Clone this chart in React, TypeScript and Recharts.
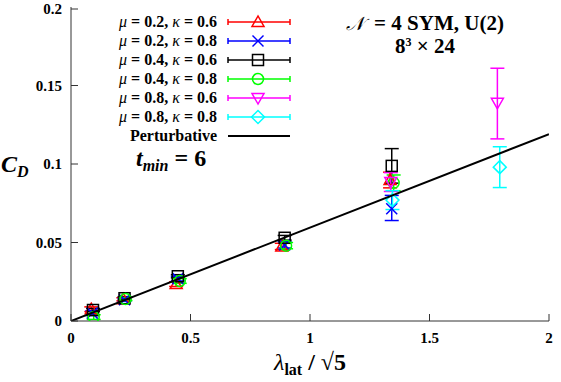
import React from 'react';
import { ComposedChart, Scatter, XAxis, YAxis, ErrorBar } from 'recharts';

const FONT = '"Liberation Serif", "Times New Roman", serif';

// ---- axis ticks ----
const xTicks = [0, 0.5, 1, 1.5, 2];
const xTickLabels = ['0', '0.5', '1', '1.5', '2'];
const yTicks = [0, 0.05, 0.1, 0.15, 0.2];
const yTickLabels = ['0', '0.05', '0.1', '0.15', '0.2'];

// ---- series data (x = lambda_lat / sqrt5, y = C_D) ----
const redX = [0.085, 0.219, 0.44, 0.882, 1.335];
const redY = [0.0075, 0.0138, 0.0235, 0.0475, 0.0898];
const redErr = [0.0015, 0.001, 0.0015, 0.002, 0.005];

const blueX = [0.089, 0.224, 0.447, 0.894, 1.342];
const blueY = [0.005, 0.0135, 0.027, 0.0485, 0.0715];
const blueErrLo = [0.0015, 0.001, 0.0015, 0.002, 0.0075];
const blueErrHi = [0.0015, 0.001, 0.0015, 0.002, 0.0085];

const blackX = [0.092, 0.224, 0.447, 0.894, 1.342];
const blackY = [0.007, 0.0145, 0.0285, 0.053, 0.0988];
const blackErr = [0.001, 0.001, 0.001, 0.0015, 0.011];

const greenX = [0.095, 0.228, 0.455, 0.9, 1.35];
const greenY = [0.0025, 0.014, 0.0255, 0.048, 0.088];
const greenErr = [0.0015, 0.001, 0.0015, 0.002, 0.005];

const magentaX = [1.338, 1.784];
const magentaY = [0.0885, 0.139];
const magentaErrLo = [0.006, 0.023];
const magentaErrHi = [0.006, 0.022];

const cyanX = [1.345, 1.794];
const cyanY = [0.077, 0.098];
const cyanErr = [0.006, 0.013];

const pertX = [0, 2];
const pertY = [0, 0.119];

const build = (xs: number[], ys: number[], lo: number[], hi?: number[]) =>
  xs.map((x, i) => ({ x, y: ys[i], e: [lo[i], (hi || lo)[i]] }));

const redData = build(redX, redY, redErr);
const blueData = build(blueX, blueY, blueErrLo, blueErrHi);
const blackData = build(blackX, blackY, blackErr);
const greenData = build(greenX, greenY, greenErr);
const magentaData = build(magentaX, magentaY, magentaErrLo, magentaErrHi);
const cyanData = build(cyanX, cyanY, cyanErr);
const pertData = pertX.map((x, i) => ({ x, y: pertY[i] }));

const legendItems = [
  { mu: '0.2', ka: '0.6', color: '#ff0000', shape: 'tri' },
  { mu: '0.2', ka: '0.8', color: '#0000ff', shape: 'x' },
  { mu: '0.4', ka: '0.6', color: '#000000', shape: 'sq' },
  { mu: '0.4', ka: '0.8', color: '#00ff00', shape: 'circ' },
  { mu: '0.8', ka: '0.6', color: '#ff00ff', shape: 'itri' },
  { mu: '0.8', ka: '0.8', color: '#00ffff', shape: 'dia' },
];

const Marker = ({ shape, cx, cy, color }: any) => {
  const sw = 1.5;
  const common = { fill: 'none', stroke: color, strokeWidth: sw };
  switch (shape) {
    case 'tri':
      return <polygon points={`${cx},${cy - 6} ${cx - 6},${cy + 4.5} ${cx + 6},${cy + 4.5}`} {...common} />;
    case 'itri':
      return <polygon points={`${cx},${cy + 6} ${cx - 6},${cy - 4.5} ${cx + 6},${cy - 4.5}`} {...common} />;
    case 'x':
      return (
        <g {...common}>
          <line x1={cx - 5.5} y1={cy - 5.5} x2={cx + 5.5} y2={cy + 5.5} />
          <line x1={cx - 5.5} y1={cy + 5.5} x2={cx + 5.5} y2={cy - 5.5} />
        </g>
      );
    case 'sq':
      return <rect x={cx - 5.5} y={cy - 5.5} width={11} height={11} {...common} />;
    case 'circ':
      return <circle cx={cx} cy={cy} r={5.5} {...common} />;
    case 'dia':
      return <polygon points={`${cx},${cy - 6.5} ${cx + 6.5},${cy} ${cx},${cy + 6.5} ${cx - 6.5},${cy}`} {...common} />;
  }
  return null;
};

const shapeFor = (shape: string, color: string) => (props: any) =>
  <Marker shape={shape} cx={props.cx} cy={props.cy} color={color} />;

const tickText = { fontFamily: FONT, fontWeight: 'bold', fontSize: 15, fill: '#000' } as any;

const BottomTick = ({ x, y, payload }: any) => {
  const i = xTicks.indexOf(payload.value);
  return (
    <g>
      <line x1={x} y1={y} x2={x} y2={y - 7} stroke="#333" strokeWidth={1} />
      <text x={x} y={y + 22} textAnchor="middle" style={tickText}>{xTickLabels[i]}</text>
    </g>
  );
};
const TopTick = ({ x, y }: any) => (
  <line x1={x} y1={y} x2={x} y2={y + 7} stroke="#333" strokeWidth={1} />
);
const LeftTick = ({ x, y, payload }: any) => {
  const i = yTicks.indexOf(payload.value);
  return (
    <g>
      <line x1={x} y1={y} x2={x + 7} y2={y} stroke="#333" strokeWidth={1} />
      <text x={x - 9} y={y + 5} textAnchor="end" style={tickText}>{yTickLabels[i]}</text>
    </g>
  );
};
const RightTick = ({ x, y }: any) => (
  <line x1={x} y1={y} x2={x - 7} y2={y} stroke="#333" strokeWidth={1} />
);

const series = [
  { data: redData, color: '#ff0000', shape: 'tri' },
  { data: blueData, color: '#0000ff', shape: 'x' },
  { data: blackData, color: '#000000', shape: 'sq' },
  { data: greenData, color: '#00ff00', shape: 'circ' },
  { data: magentaData, color: '#ff00ff', shape: 'itri' },
  { data: cyanData, color: '#00ffff', shape: 'dia' },
];

export default function App() {
  return (
    <div style={{ position: 'absolute', left: 0, top: 0, width: 561, height: 382, background: '#fff' }}>
      <ComposedChart width={561} height={382} margin={{ top: 7, right: 12, left: 0, bottom: 0 }}>
        <XAxis
          xAxisId="b"
          dataKey="x"
          type="number"
          domain={[0, 2]}
          ticks={xTicks}
          height={61}
          tickSize={0}
          tickMargin={0}
          tick={<BottomTick />}
          axisLine={{ stroke: '#333', strokeWidth: 1 }}
          allowDataOverflow
        />
        <XAxis
          xAxisId="t"
          orientation="top"
          type="number"
          domain={[0, 2]}
          ticks={xTicks}
          height={0}
          tickSize={0}
          tickMargin={0}
          tick={<TopTick />}
          axisLine={{ stroke: '#333', strokeWidth: 1 }}
          allowDataOverflow
        />
        <YAxis
          yAxisId="l"
          dataKey="y"
          type="number"
          domain={[0, 0.2]}
          ticks={yTicks}
          width={71}
          tickSize={0}
          tickMargin={0}
          tick={<LeftTick />}
          axisLine={{ stroke: '#333', strokeWidth: 1 }}
          allowDataOverflow
        />
        <YAxis
          yAxisId="r"
          orientation="right"
          type="number"
          domain={[0, 0.2]}
          ticks={yTicks}
          width={0}
          tickSize={0}
          tickMargin={0}
          tick={<RightTick />}
          axisLine={{ stroke: '#333', strokeWidth: 1 }}
          allowDataOverflow
        />
        {series.map((s, k) => (
          <Scatter
            key={k}
            xAxisId="b"
            yAxisId="l"
            data={s.data}
            dataKey="y"
            isAnimationActive={false}
            shape={shapeFor(s.shape, s.color)}
          >
            <ErrorBar dataKey="e" direction="y" width={7} stroke={s.color} strokeWidth={1.5} />
          </Scatter>
        ))}
        <Scatter
          xAxisId="b"
          yAxisId="l"
          data={pertData}
          dataKey="y"
          line={{ stroke: '#000', strokeWidth: 2 }}
          shape={() => null}
          isAnimationActive={false}
        />
      </ComposedChart>

      <svg width={561} height={382} style={{ position: 'absolute', left: 0, top: 0, pointerEvents: 'none' }}>
        {legendItems.map((it, i) => {
          const y = 22 + i * 19;
          return (
            <g key={i}>
              <text x={217} y={y + 5} textAnchor="end" style={{ fontFamily: FONT, fontWeight: 'bold', fontSize: 16 }}>
                <tspan fontStyle="italic" fontWeight="normal">μ</tspan>
                <tspan> = {it.mu}, </tspan>
                <tspan fontStyle="italic" fontWeight="normal">κ</tspan>
                <tspan> = {it.ka}</tspan>
              </text>
              <line x1={228} y1={y} x2={290} y2={y} stroke={it.color} strokeWidth={1.5} />
              <line x1={228} y1={y - 3} x2={228} y2={y + 3} stroke={it.color} strokeWidth={1.5} />
              <line x1={290} y1={y - 3} x2={290} y2={y + 3} stroke={it.color} strokeWidth={1.5} />
              <Marker shape={it.shape} cx={258} cy={y} color={it.color} />
            </g>
          );
        })}
        <text x={217} y={141} textAnchor="end" style={{ fontFamily: FONT, fontWeight: 'bold', fontSize: 16 }}>Perturbative</text>
        <line x1={228} y1={136} x2={290} y2={136} stroke="#000" strokeWidth={2} />

        <text x={136} y={166} style={{ fontFamily: FONT, fontWeight: 'bold', fontSize: 24 }}>
          <tspan fontStyle="italic">t</tspan>
          <tspan fontStyle="italic" fontSize={16} dy={5}>min</tspan>
          <tspan dy={-5}> = 6</tspan>
        </text>

        <text x={425} y={30} textAnchor="middle" style={{ fontFamily: FONT, fontWeight: 'bold', fontSize: 21 }}>
          <tspan fontStyle="italic" fontWeight="normal" fontSize={19}>𝒩</tspan>
          <tspan dx={10}>= 4 SYM, U(2)</tspan>
        </text>
        <text x={425} y={53} textAnchor="middle" style={{ fontFamily: FONT, fontWeight: 'bold', fontSize: 21 }}>
          <tspan>8</tspan>
          <tspan fontSize={12} dy={-7}>3</tspan>
          <tspan dy={7}> × 24</tspan>
        </text>

        <text x={1} y={172} style={{ fontFamily: FONT, fontWeight: 'bold', fontStyle: 'italic', fontSize: 24 }}>
          <tspan>C</tspan>
          <tspan fontSize={16} dy={5}>D</tspan>
        </text>

        <text x={310} y={370} textAnchor="middle" style={{ fontFamily: FONT, fontWeight: 'bold', fontSize: 24 }}>
          <tspan fontStyle="italic" fontWeight="normal">λ</tspan>
          <tspan fontSize={16} dy={5}>lat</tspan>
          <tspan dy={-5}> / √5</tspan>
        </text>
      </svg>
    </div>
  );
}
